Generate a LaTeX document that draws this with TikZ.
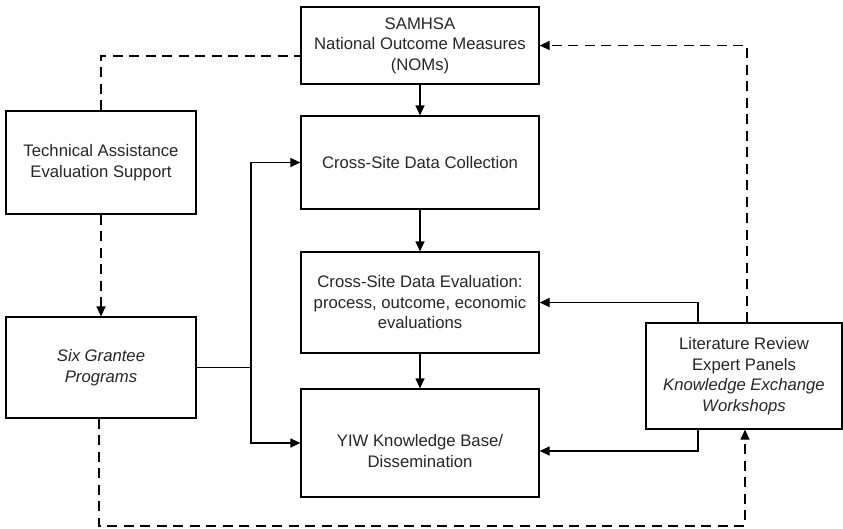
\documentclass[tikz,border=0pt]{standalone}
\usepackage{fontspec}
\setmainfont{Liberation Sans}
\usetikzlibrary{arrows.meta}
\begin{document}
\begin{tikzpicture}[x=1pt,y=-1pt,
  txt/.style={align=center,font=\fontsize{16.7}{20.5}\selectfont,text=black!85},
  box/.style={draw=black,line width=1.2pt,inner sep=2pt,txt},
  conn/.style={line width=1.2pt,-{Triangle[length=10pt,width=9pt]}},
  plain/.style={line width=1.2pt},
  dashline/.style={line width=1.2pt,dash pattern=on 10pt off 6.5pt},
  darrow/.style={dashline,-{Triangle[length=10pt,width=9pt]}}]
\useasboundingbox (0,0) rectangle (843,528);
\node[box,minimum width=238pt,minimum height=77pt] (samhsa) at (420,45.5)
  {SAMHSA\\National Outcome Measures\\(NOMs)};
\node[box,minimum width=238pt,minimum height=93pt] (csdc) at (420,162.5)
  {Cross-Site Data Collection};
\node[box,minimum width=238pt,minimum height=101pt] (csde) at (420,302.5)
  {Cross-Site Data Evaluation:\\process, outcome, economic\\evaluations};
\node[box,minimum width=238pt,minimum height=108pt,
  label={[txt,yshift=-8pt]center:YIW Knowledge Base/\\Dissemination}] (yiw) at (420,443) {};
\node[box,minimum width=190pt,minimum height=103pt] (ta) at (101,162.5)
  {Technical Assistance\\Evaluation Support};
\node[box,minimum width=190pt,minimum height=101pt] (sgp) at (101,367.5)
  {\itshape Six Grantee\\\itshape Programs};
\node[box,minimum width=196pt,minimum height=106pt] (lit) at (744,376)
  {Literature Review\\Expert Panels\\\itshape Knowledge Exchange\\\itshape Workshops};
% vertical solid arrows
\draw[conn] (samhsa) -- (csdc);
\draw[conn] (csdc) -- (csde);
\draw[conn] (csde) -- (yiw);
% grantee branch
\coordinate (br) at (251,367.5);
\draw[plain] (sgp.east) -- (br);
\draw[conn] (br) |- (csdc.west);
\draw[conn] (br) |- (yiw.west);
% literature arrows
\draw[conn] (lit.north -| 698,0) |- (csde.east);
\draw[conn] (lit.south -| 698,0) |- (yiw.east |- 0,451);
% dashed connectors
\draw[dashline] (ta.north) |- (samhsa.west |- 0,56);
\draw[darrow] (ta.south) -- (sgp.north);
\coordinate (bl) at (99,526);
\draw[darrow] (sgp.south -| bl) -- (bl) -| (lit.south -| 745,0);
\draw[darrow] (lit.north -| 747,0) |- (samhsa.east);
\end{tikzpicture}
\end{document}
